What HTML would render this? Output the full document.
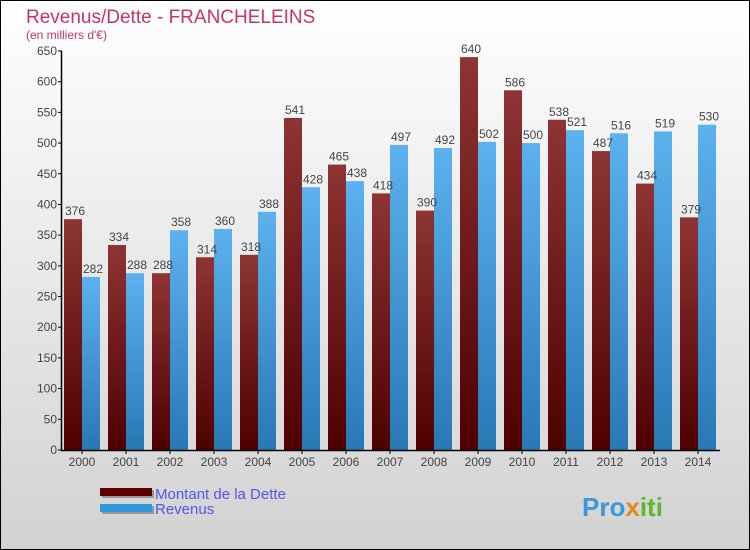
<!DOCTYPE html>
<html><head><meta charset="utf-8"><style>
body{margin:0}
svg{display:block;font-family:"Liberation Sans",sans-serif}
</style></head><body>
<svg width="750" height="550" xmlns="http://www.w3.org/2000/svg">
<defs>
<linearGradient id="bg" x1="0" y1="0" x2="0" y2="1"><stop offset="0" stop-color="#ffffff"/><stop offset="1" stop-color="#d2d2d2"/></linearGradient>
<linearGradient id="gd" x1="0" y1="0" x2="0" y2="1"><stop offset="0" stop-color="#8e3434"/><stop offset="1" stop-color="#4e0000"/></linearGradient>
<linearGradient id="gr" x1="0" y1="0" x2="0" y2="1"><stop offset="0" stop-color="#5cb2ee"/><stop offset="1" stop-color="#2878b4"/></linearGradient>
</defs>
<rect x="0.5" y="0.5" width="749" height="549" fill="url(#bg)" stroke="#000"/>
<text x="26" y="23" font-size="19" fill="#c8336a">Revenus/Dette - FRANCHELEINS</text>
<text x="26" y="39" font-size="12" fill="#c8336a">(en milliers d'€)</text>
<g id="plot"></g>
<g>
<rect x="102" y="490" width="52" height="8" fill="#999"/>
<rect x="100" y="488" width="52" height="8" fill="#600000"/>
<text x="155" y="499" font-size="15" fill="#5555ee">Montant de la Dette</text>
<rect x="102" y="506" width="52" height="8" fill="#999"/>
<rect x="100" y="504" width="52" height="8" fill="#2e96dc"/>
<text x="155" y="514" font-size="15" fill="#5555ee">Revenus</text>
</g>
<text x="582" y="516" font-size="26" font-weight="bold" fill="#3a9ad8">Pro<tspan fill="#e08a20">x</tspan><tspan fill="#5cb82a">iti</tspan></text>
</svg>
<script>
const years=["2000","2001","2002","2003","2004","2005","2006","2007","2008","2009","2010","2011","2012","2013","2014"];
const dette=[376,334,288,314,318,541,465,418,390,640,586,538,487,434,379];
const revenus=[282,288,358,360,388,428,438,497,492,502,500,521,516,519,530];
const yTicks=[0,50,100,150,200,250,300,350,400,450,500,550,600,650];
const NS="http://www.w3.org/2000/svg";
const g=document.getElementById('plot');
const x0=62,step=44,y0=450,yTop=51,yMax=650;
const y=v=>y0-v*(y0-yTop)/yMax;
function mk(t,a,txt){const e=document.createElementNS(NS,t);for(const k in a)e.setAttribute(k,a[k]);if(txt!==undefined)e.textContent=txt;g.appendChild(e);return e;}
yTicks.forEach(v=>{
 const l=mk('line',{x1:58,x2:62,y1:y(v),y2:y(v),stroke:'#000'});
 
 
 const t=mk('text',{x:57,y:y(v)+4,'font-size':12,fill:'#444','text-anchor':'end'},v);
 
 
});
years.forEach((yr,i)=>{
 const gx=x0+step*i;
 const bd=mk('rect',{x:gx+2,y:y(dette[i]),width:18,height:y0-y(dette[i]),fill:'url(#gd)'});
 
 
 const br=mk('rect',{x:gx+20,y:y(revenus[i]),width:18,height:y0-y(revenus[i]),fill:'url(#gr)'});
 
 
 const ld=mk('text',{x:gx+13,y:y(dette[i])-4,'font-size':12,fill:'#444','text-anchor':'middle'},dette[i]);
 
 
 const lr=mk('text',{x:gx+31,y:y(revenus[i])-4,'font-size':12,fill:'#444','text-anchor':'middle'},revenus[i]);
 
 
 const tk=mk('line',{x1:gx+20,x2:gx+20,y1:450,y2:454,stroke:'#000'});
 
 
 const xl=mk('text',{x:gx+20,y:466,'font-size':12,fill:'#444','text-anchor':'middle'},yr);
 
 
});
const ya=mk('line',{x1:61.5,x2:61.5,y1:yTop,y2:451,stroke:'#000','stroke-width':1.5});


const xa=mk('line',{x1:61,x2:720,y1:450.5,y2:450.5,stroke:'#000','stroke-width':1.5});


</script>
</body></html>
